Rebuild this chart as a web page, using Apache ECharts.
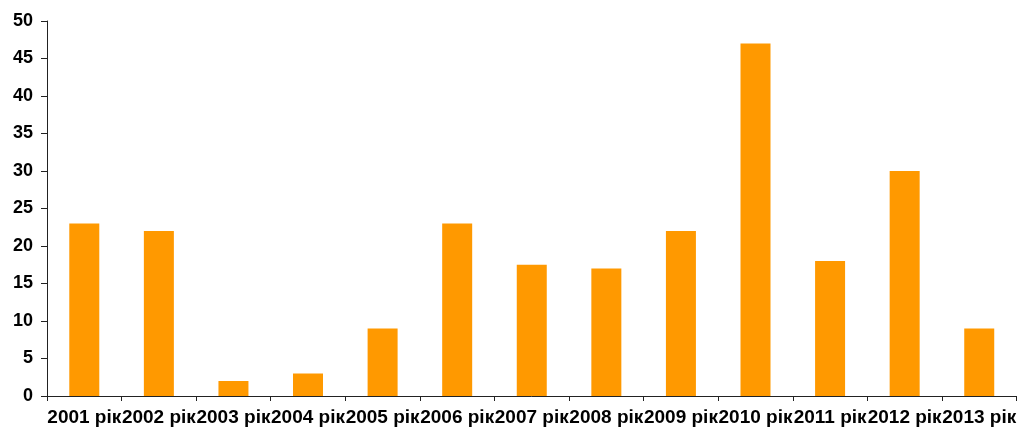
<!DOCTYPE html>
<html><head><meta charset="utf-8">
<script src="https://cdn.jsdelivr.net/npm/echarts@6/dist/echarts.min.js"></script>
<style>html,body{margin:0;padding:0;background:#fff}#c{width:1019px;height:427px}</style>
</head><body><div id="c"></div>
<script>
const categories = ['2001 рік','2002 рік','2003 рік','2004 рік','2005 рік','2006 рік','2007 рік','2008 рік','2009 рік','2010 рік','2011 рік','2012 рік','2013 рік'];
const values = [23, 22, 2, 3, 9, 23, 17.5, 17, 22, 47, 18, 30, 9];
const chart = echarts.init(document.getElementById('c'));
const font = {fontFamily:'Liberation Sans, Arial, sans-serif', fontWeight:'bold', color:'#000'};
chart.setOption({
  animation:false,
  grid:{left:47, right:-3, top:21, bottom:31, containLabel:false},
  xAxis:{type:'category', data:categories,
    axisLine:{lineStyle:{color:'#222', width:1}},
    axisTick:{show:true, length:5, lineStyle:{color:'#222'}},
    axisLabel:Object.assign({interval:0, margin:12, fontSize:19}, font)},
  yAxis:{type:'value', min:0, max:50, interval:5,
    axisLine:{show:true, lineStyle:{color:'#222', width:1}},
    axisTick:{show:true, length:6, lineStyle:{color:'#222'}},
    splitLine:{show:false},
    axisLabel:Object.assign({margin:14, fontSize:18}, font)},
  series:[{type:'bar', data:values, barWidth:30, itemStyle:{color:'#FF9900'}}]
});
</script></body></html>
